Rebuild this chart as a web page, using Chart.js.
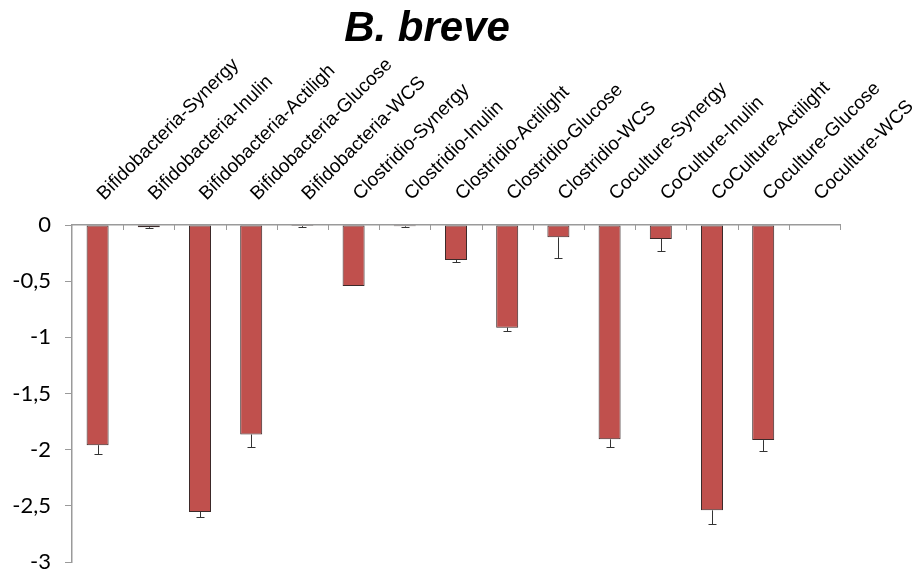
<!DOCTYPE html>
<html>
<head>
<meta charset="utf-8">
<script src="https://cdn.jsdelivr.net/npm/chart.js@4"></script>
<style>
  body { margin: 0; background: #fff; }
  #wrap { width: 915px; height: 574px; position: relative; }
</style>
</head>
<body>
<div id="wrap"><canvas id="breveChart"></canvas></div>
<script>
// B. breve response per culture / substrate
const categories = [
    "Bifidobacteria-Synergy", "Bifidobacteria-Inulin", "Bifidobacteria-Actiligh",
    "Bifidobacteria-Glucose", "Bifidobacteria-WCS", "Clostridio-Synergy",
    "Clostridio-Inulin", "Clostridio-Actilight", "Clostridio-Glucose",
    "Clostridio-WCS", "Coculture-Synergy", "CoCulture-Inulin",
    "CoCulture-Actilight", "Coculture-Glucose", "Coculture-WCS"
];
const means = [-1.96, -0.02, -2.555, -1.865, -0.01, -0.543, -0.012, -0.312, -0.914,
               -0.11, -1.908, -0.125, -2.54, -1.915, 0];
const errors = [0.075, 0.01, 0.045, 0.11, 0.005, 0, 0.01, 0.02, 0.027,
                0.187, 0.066, 0.107, 0.125, 0.095, 0];
const yMin = -3;
const yMax = 0;
const yStep = 0.5;

const AXIS_GREY = '#9a9a9a';

/* ---------------------------------------------------
    Title drawn by hand (sits left of centre)
---------------------------------------------------*/
const titlePlugin = {
    id: 'breveTitle',
    afterDraw(chart) {
        const ctx = chart.ctx;
        ctx.save();
        ctx.font = 'italic bold 42px "Liberation Sans", Arial, sans-serif';
        ctx.fillStyle = '#000';
        ctx.textAlign = 'center';
        ctx.textBaseline = 'middle';
        ctx.fillText('B. breve', 427, 29);
        ctx.restore();
    }
};

/* ---------------------------------------------------
    Category ticks hanging below the zero line
---------------------------------------------------*/
const hangingTicks = {
    id: 'hangingTicks',
    afterDraw(chart) {
        const { ctx, chartArea, scales: { x } } = chart;
        const step = x.width / categories.length;
        ctx.save();
        ctx.strokeStyle = AXIS_GREY;
        ctx.lineWidth = 1;
        for (let i = 1; i <= categories.length; i++) {
            const px = Math.round(x.left + i * step) + 0.5;
            ctx.beginPath();
            ctx.moveTo(px, chartArea.top);
            ctx.lineTo(px, chartArea.top + 5);
            ctx.stroke();
        }
        ctx.restore();
    }
};

/* ---------------------------------------------------
    Error bars (negative side only)
---------------------------------------------------*/
const errorBars = {
    id: 'errorBars',
    afterDatasetsDraw(chart) {
        const { ctx, scales: { y } } = chart;
        const meta = chart.getDatasetMeta(0);
        ctx.save();
        ctx.strokeStyle = '#333';
        ctx.lineWidth = 1;
        meta.data.forEach((bar, i) => {
            if (!errors[i]) return;
            const cx = Math.round(bar.x) + 0.5;
            const yTop = y.getPixelForValue(means[i]);
            const yEnd = Math.round(y.getPixelForValue(means[i] - errors[i])) + 0.5;
            ctx.beginPath();
            ctx.moveTo(cx, yTop);
            ctx.lineTo(cx, yEnd);
            ctx.moveTo(cx - 4, yEnd);
            ctx.lineTo(cx + 4, yEnd);
            ctx.stroke();
        });
        ctx.restore();
    }
};

const ctx = document.getElementById('breveChart').getContext('2d');
new Chart(ctx, {
    type: 'bar',
    data: {
        labels: categories,
        datasets: [{
            data: means,
            backgroundColor: '#c0504d',
            borderColor: '#3b2a2a',
            borderWidth: 1,
            borderSkipped: false,
            barPercentage: 0.43,
            categoryPercentage: 1
        }]
    },
    options: {
        responsive: true,
        maintainAspectRatio: false,
        animation: false,
        layout: { padding: { top: 0, left: 0, right: 75, bottom: 0 } },
        plugins: {
            legend: { display: false },
            title: { display: false },
            tooltip: { enabled: false }
        },
        scales: {
            x: {
                position: 'top',
                grid: { display: false },
                border: { display: true, color: AXIS_GREY, width: 1.5 },
                ticks: {
                    autoSkip: false,
                    minRotation: 45,
                    maxRotation: 45,
                    padding: 12,
                    labelOffset: 19,
                    color: '#000',
                    font: { family: '"Liberation Sans", Arial, sans-serif', size: 19 }
                },
                afterFit(scale) {
                    scale.height = 225;
                    scale.paddingLeft = 0;
                    scale.paddingRight = 0;
                }
            },
            y: {
                min: yMin,
                max: yMax,
                grid: {
                    drawOnChartArea: false,
                    drawTicks: true,
                    tickLength: 7,
                    color: AXIS_GREY
                },
                border: { display: true, color: AXIS_GREY, width: 1.5 },
                ticks: {
                    stepSize: yStep,
                    padding: 14,
                    color: '#000',
                    font: { family: 'Lato, sans-serif', size: 22 },
                    callback: v => String(v).replace('.', ',')
                },
                afterFit(scale) {
                    scale.width = 72;
                    scale.paddingBottom = 12;
                    scale.paddingTop = 0;
                }
            }
        }
    },
    plugins: [titlePlugin, hangingTicks, errorBars]
});
</script>
</body>
</html>
